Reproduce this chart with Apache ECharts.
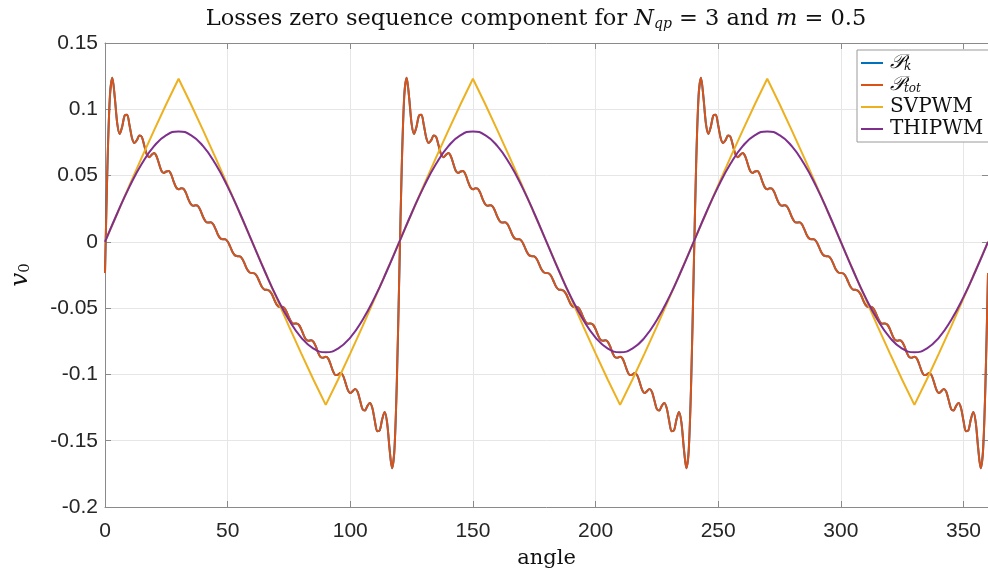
<!DOCTYPE html>
<html>
<head>
<meta charset="utf-8">
<script src="https://cdn.jsdelivr.net/npm/echarts@6/dist/echarts.min.js"></script>
<style>
html,body{margin:0;padding:0;background:#fff;}
#chart{width:988px;height:575px;}
</style>
</head>
<body>
<div id="chart"></div>
<script>
// ---- data ----
const seriesNames = ['Pk', 'Ptot', 'SVPWM', 'THIPWM'];
const xTicks = [0, 50, 100, 150, 200, 250, 300, 350];
const yTicks = [-0.2, -0.15, -0.1, -0.05, 0, 0.05, 0.1, 0.15];

// P_tot sampled every 1 degree, 0..360
const ptotStep = 1;
const ptotValues = [
 -0.0235, 0.0575, 0.1098, 0.1238, 0.1088, 0.0892, 0.0814, 0.0869, 0.0952, 0.0958,
 0.0879, 0.0784, 0.0746, 0.0767, 0.0802, 0.0792, 0.0727, 0.0661, 0.0639, 0.0656,
 0.0670, 0.0646, 0.0590, 0.0537, 0.0520, 0.0531, 0.0535, 0.0507, 0.0455, 0.0411,
 0.0397, 0.0404, 0.0401, 0.0370, 0.0321, 0.0284, 0.0272, 0.0276, 0.0268, 0.0234,
 0.0188, 0.0155, 0.0146, 0.0147, 0.0135, 0.0100, 0.0056, 0.0027, 0.0019, 0.0019,
 0.0003, -0.0034, -0.0076, -0.0102, -0.0108, -0.0110, -0.0129, -0.0168, -0.0209, -0.0231,
 -0.0235, -0.0239, -0.0261, -0.0302, -0.0341, -0.0360, -0.0362, -0.0368, -0.0394, -0.0436,
 -0.0473, -0.0489, -0.0489, -0.0497, -0.0526, -0.0570, -0.0605, -0.0617, -0.0616, -0.0625,
 -0.0658, -0.0704, -0.0738, -0.0746, -0.0742, -0.0754, -0.0791, -0.0840, -0.0871, -0.0874,
 -0.0867, -0.0881, -0.0925, -0.0977, -0.1005, -0.1001, -0.0990, -0.1007, -0.1060, -0.1116,
 -0.1140, -0.1126, -0.1109, -0.1131, -0.1197, -0.1262, -0.1272, -0.1237, -0.1216, -0.1254,
 -0.1349, -0.1428, -0.1422, -0.1339, -0.1284, -0.1362, -0.1558, -0.1708, -0.1568, -0.1045,
 -0.0235, 0.0575, 0.1098, 0.1238, 0.1088, 0.0892, 0.0814, 0.0869, 0.0952, 0.0958,
 0.0879, 0.0784, 0.0746, 0.0767, 0.0802, 0.0792, 0.0727, 0.0661, 0.0639, 0.0656,
 0.0670, 0.0646, 0.0590, 0.0537, 0.0520, 0.0531, 0.0535, 0.0507, 0.0455, 0.0411,
 0.0397, 0.0404, 0.0401, 0.0370, 0.0321, 0.0284, 0.0272, 0.0276, 0.0268, 0.0234,
 0.0188, 0.0155, 0.0146, 0.0147, 0.0135, 0.0100, 0.0056, 0.0027, 0.0019, 0.0019,
 0.0003, -0.0034, -0.0076, -0.0102, -0.0108, -0.0110, -0.0129, -0.0168, -0.0209, -0.0231,
 -0.0235, -0.0239, -0.0261, -0.0302, -0.0341, -0.0360, -0.0362, -0.0368, -0.0394, -0.0436,
 -0.0473, -0.0489, -0.0489, -0.0497, -0.0526, -0.0570, -0.0605, -0.0617, -0.0616, -0.0625,
 -0.0658, -0.0704, -0.0738, -0.0746, -0.0742, -0.0754, -0.0791, -0.0840, -0.0871, -0.0874,
 -0.0867, -0.0881, -0.0925, -0.0977, -0.1005, -0.1001, -0.0990, -0.1007, -0.1060, -0.1116,
 -0.1140, -0.1126, -0.1109, -0.1131, -0.1197, -0.1262, -0.1272, -0.1237, -0.1216, -0.1254,
 -0.1349, -0.1428, -0.1422, -0.1339, -0.1284, -0.1362, -0.1558, -0.1708, -0.1568, -0.1045,
 -0.0235, 0.0575, 0.1098, 0.1238, 0.1088, 0.0892, 0.0814, 0.0869, 0.0952, 0.0958,
 0.0879, 0.0784, 0.0746, 0.0767, 0.0802, 0.0792, 0.0727, 0.0661, 0.0639, 0.0656,
 0.0670, 0.0646, 0.0590, 0.0537, 0.0520, 0.0531, 0.0535, 0.0507, 0.0455, 0.0411,
 0.0397, 0.0404, 0.0401, 0.0370, 0.0321, 0.0284, 0.0272, 0.0276, 0.0268, 0.0234,
 0.0188, 0.0155, 0.0146, 0.0147, 0.0135, 0.0100, 0.0056, 0.0027, 0.0019, 0.0019,
 0.0003, -0.0034, -0.0076, -0.0102, -0.0108, -0.0110, -0.0129, -0.0168, -0.0209, -0.0231,
 -0.0235, -0.0239, -0.0261, -0.0302, -0.0341, -0.0360, -0.0362, -0.0368, -0.0394, -0.0436,
 -0.0473, -0.0489, -0.0489, -0.0497, -0.0526, -0.0570, -0.0605, -0.0617, -0.0616, -0.0625,
 -0.0658, -0.0704, -0.0738, -0.0746, -0.0742, -0.0754, -0.0791, -0.0840, -0.0871, -0.0874,
 -0.0867, -0.0881, -0.0925, -0.0977, -0.1005, -0.1001, -0.0990, -0.1007, -0.1060, -0.1116,
 -0.1140, -0.1126, -0.1109, -0.1131, -0.1197, -0.1262, -0.1272, -0.1237, -0.1216, -0.1254,
 -0.1349, -0.1428, -0.1422, -0.1339, -0.1284, -0.1362, -0.1558, -0.1708, -0.1568, -0.1045,
 -0.0235
];
// P_k lies exactly under P_tot in the reference
const pkValues = ptotValues;

// SVPWM and THIPWM sampled every 5 degrees, 0..360
const modStep = 5;
const svpwmValues = [
 0, 0.0214, 0.0427, 0.0637, 0.0841, 0.1040, 0.1230, 0.1040, 0.0841, 0.0637, 0.0427, 0.0214,
 0, -0.0214, -0.0427, -0.0637, -0.0841, -0.1040, -0.1230, -0.1040, -0.0841, -0.0637, -0.0427, -0.0214,
 0, 0.0214, 0.0427, 0.0637, 0.0841, 0.1040, 0.1230, 0.1040, 0.0841, 0.0637, 0.0427, 0.0214,
 0, -0.0214, -0.0427, -0.0637, -0.0841, -0.1040, -0.1230, -0.1040, -0.0841, -0.0637, -0.0427, -0.0214,
 0, 0.0214, 0.0427, 0.0637, 0.0841, 0.1040, 0.1230, 0.1040, 0.0841, 0.0637, 0.0427, 0.0214,
 0, -0.0214, -0.0427, -0.0637, -0.0841, -0.1040, -0.1230, -0.1040, -0.0841, -0.0637, -0.0427, -0.0214,
 0
];
const thipwmValues = [
 0, 0.0216, 0.0417, 0.0589, 0.0722, 0.0805, 0.0833, 0.0805, 0.0722, 0.0589, 0.0417, 0.0216,
 0, -0.0216, -0.0417, -0.0589, -0.0722, -0.0805, -0.0833, -0.0805, -0.0722, -0.0589, -0.0417, -0.0216,
 0, 0.0216, 0.0417, 0.0589, 0.0722, 0.0805, 0.0833, 0.0805, 0.0722, 0.0589, 0.0417, 0.0216,
 0, -0.0216, -0.0417, -0.0589, -0.0722, -0.0805, -0.0833, -0.0805, -0.0722, -0.0589, -0.0417, -0.0216,
 0, 0.0216, 0.0417, 0.0589, 0.0722, 0.0805, 0.0833, 0.0805, 0.0722, 0.0589, 0.0417, 0.0216,
 0, -0.0216, -0.0417, -0.0589, -0.0722, -0.0805, -0.0833, -0.0805, -0.0722, -0.0589, -0.0417, -0.0216,
 0
];

// ---- build ----
function pairs(values, step) { return values.map((v, i) => [i * step, v]); }
const colors = ['#0072BD', '#D95319', '#EDB120', '#7E2F8E'];
const serif = '"DejaVu Serif", "Liberation Serif", serif';
const sans = '"Liberation Sans", Arial, sans-serif';

const legendRich = {
  p: { fontFamily: serif, fontStyle: 'italic', fontWeight: 'normal', fontSize: 20, color: '#111' },
  s: { fontFamily: serif, fontStyle: 'italic', fontWeight: 'normal', fontSize: 12, color: '#111', verticalAlign: 'bottom', padding: [8, 0, 0, 0] },
  t: { fontFamily: serif, fontWeight: 'normal', fontSize: 20, color: '#111' }
};

const chart = echarts.init(document.getElementById('chart'), null, { renderer: 'canvas' });
const axisLineColor = '#8a8a8a';
chart.setOption({
  animation: false,
  backgroundColor: '#fff',
  color: colors,
  title: {
    text: '{a|Losses zero sequence component for }{i|N}{s|qp}{a| = 3 and }{i|m}{a| = 0.5}',
    left: 531, top: 3, textAlign: 'center',
    textStyle: {
      fontWeight: 'normal',
      rich: {
        a: { fontFamily: serif, fontWeight: 'normal', fontSize: 22.5, color: '#111' },
        i: { fontFamily: serif, fontStyle: 'italic', fontWeight: 'normal', fontSize: 22.5, color: '#111' },
        s: { fontFamily: serif, fontStyle: 'italic', fontWeight: 'normal', fontSize: 14, color: '#111', verticalAlign: 'bottom', padding: [8, 0, 0, 0] }
      }
    }
  },
  legend: {
    orient: 'vertical', left: 857, top: 50,
    backgroundColor: '#fff', borderColor: '#9a9a9a', borderWidth: 1, borderRadius: 0,
    padding: [3, 6, 3, 4], itemGap: 2, itemWidth: 22, itemHeight: 2, icon: 'rect',
    data: seriesNames,
    formatter: function (name) {
      if (name === 'Pk') return '{p|𝒫}{s|k}';
      if (name === 'Ptot') return '{p|𝒫}{s|tot}';
      return '{t|' + name + '}';
    },
    textStyle: { rich: legendRich, padding: [0, 0, 0, 2] }
  },
  grid: { left: 97, right: -2.5, top: 43, bottom: 68, containLabel: false },
  xAxis: [{
    type: 'value', min: 0, max: 360, interval: 50,
    name: 'angle', nameLocation: 'middle', nameGap: 41,
    nameTextStyle: { fontFamily: serif, fontSize: 21, color: '#111' },
    axisLine: { show: true, onZero: false, lineStyle: { color: axisLineColor, width: 1 } },
    axisTick: { show: true, inside: true, length: 6, lineStyle: { color: axisLineColor } },
    axisLabel: { showMaxLabel: false, margin: 14, fontFamily: sans, fontSize: 21, color: '#262626' },
    splitLine: { show: true, lineStyle: { color: '#e6e6e6', width: 1 } }
  }, {
    type: 'value', position: 'top', min: 0, max: 360, interval: 50,
    axisLine: { show: true, onZero: false, lineStyle: { color: axisLineColor, width: 1 } },
    axisTick: { show: true, inside: true, length: 6, lineStyle: { color: axisLineColor } },
    axisLabel: { show: false }, splitLine: { show: false }
  }],
  yAxis: [{
    type: 'value', min: -0.2, max: 0.15, interval: 0.05,
    name: '{v|v}{s|0}', nameLocation: 'middle', nameGap: 72, nameRotate: 90,
    nameTextStyle: { rich: {
      v: { fontFamily: serif, fontStyle: 'italic', fontSize: 25, color: '#111' },
      s: { fontFamily: serif, fontSize: 15, color: '#111', verticalAlign: 'bottom', padding: [10, 0, 0, 0] }
    } },
    axisLine: { show: true, onZero: false, lineStyle: { color: axisLineColor, width: 1 } },
    axisTick: { show: true, inside: true, length: 6, lineStyle: { color: axisLineColor } },
    axisLabel: { margin: 7, fontFamily: sans, fontSize: 21, color: '#262626',
      formatter: v => String(parseFloat(v.toFixed(3))) },
    splitLine: { show: true, lineStyle: { color: '#e6e6e6', width: 1 } }
  }, {
    type: 'value', position: 'right', min: -0.2, max: 0.15, interval: 0.05,
    axisLine: { show: true, onZero: false, lineStyle: { color: axisLineColor, width: 1 } },
    axisTick: { show: true, inside: true, length: 6, lineStyle: { color: axisLineColor } },
    axisLabel: { show: false }, splitLine: { show: false }
  }],
  series: [
    { name: 'Pk', type: 'line', data: pairs(pkValues, ptotStep), showSymbol: false, smooth: 0.3,
      lineStyle: { width: 2, color: colors[0] }, z: 1 },
    { name: 'Ptot', type: 'line', data: pairs(ptotValues, ptotStep), showSymbol: false, smooth: 0.3,
      lineStyle: { width: 2, color: colors[1] }, z: 2 },
    { name: 'SVPWM', type: 'line', data: pairs(svpwmValues, modStep), showSymbol: false, smooth: false,
      lineStyle: { width: 2, color: colors[2] }, z: 3 },
    { name: 'THIPWM', type: 'line', data: pairs(thipwmValues, modStep), showSymbol: false, smooth: true,
      lineStyle: { width: 2, color: colors[3] }, z: 4 }
  ]
});
</script>
</body>
</html>
